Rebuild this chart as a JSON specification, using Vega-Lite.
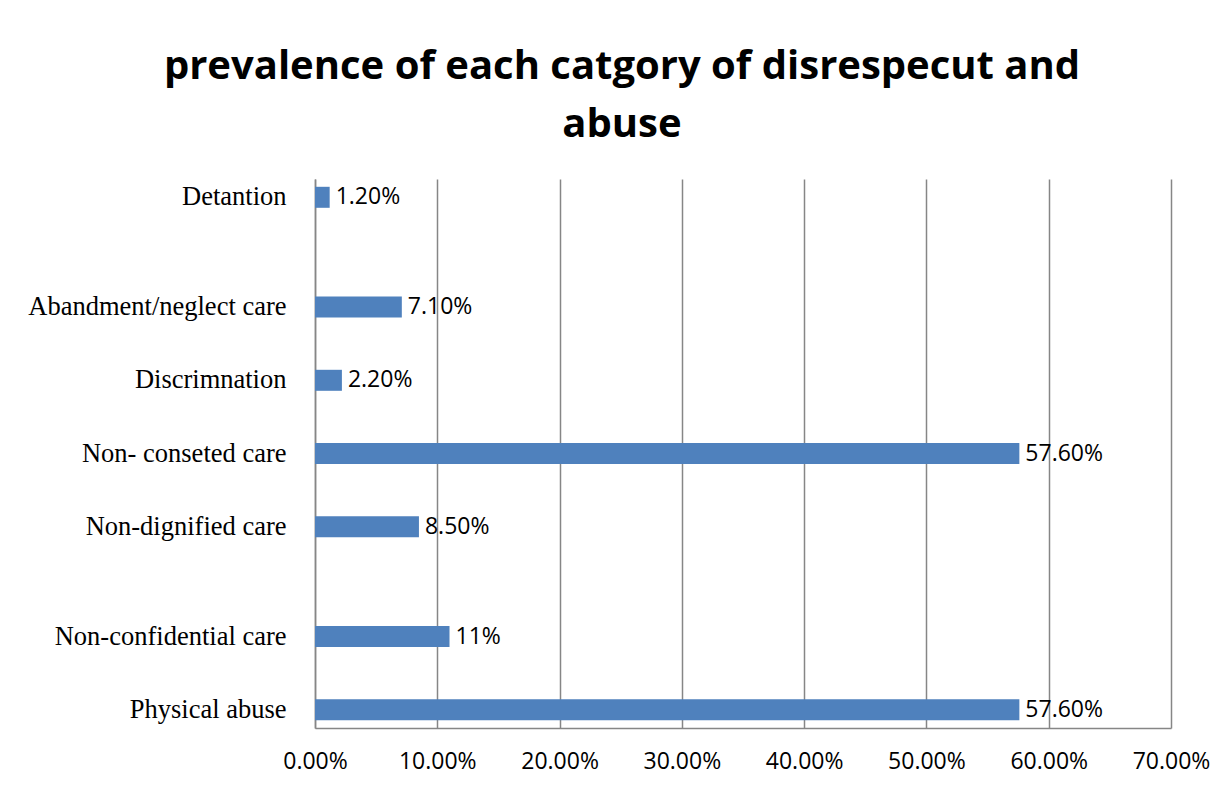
{
  "$schema": "https://vega.github.io/schema/vega-lite/v6.json",
  "width": 856,
  "height": 549,
  "autosize": "none",
  "padding": {"left": 315, "top": 179, "right": 57, "bottom": 61},
  "background": "white",
  "title": {
    "text": ["prevalence of each catgory of disrespecut and", "abuse"],
    "font": "Open Sans",
    "fontWeight": "bold",
    "fontSize": 40,
    "lineHeight": 58,
    "color": "black",
    "anchor": "middle",
    "frame": "group",
    "dx": -121,
    "offset": 34
  },
  "data": {
    "values": [
      {"category": "Detantion", "value": 0.012, "label": "1.20%"},
      {"category": "Abandment/neglect care", "value": 0.071, "label": "7.10%"},
      {"category": "Discrimnation", "value": 0.022, "label": "2.20%"},
      {"category": "Non- conseted care", "value": 0.576, "label": "57.60%"},
      {"category": "Non-dignified care", "value": 0.085, "label": "8.50%"},
      {"category": "Non-confidential care", "value": 0.11, "label": "11%"},
      {"category": "Physical abuse", "value": 0.576, "label": "57.60%"}
    ]
  },
  "encoding": {
    "y": {
      "field": "category",
      "type": "nominal",
      "scale": {
        "type": "band",
        "paddingInner": 0,
        "paddingOuter": 0,
        "domain": ["Detantion", "gap1", "gap2", "Abandment/neglect care", "gap3", "Discrimnation", "gap4", "Non- conseted care", "gap5", "Non-dignified care", "gap6", "gap7", "Non-confidential care", "gap8", "Physical abuse"]
      },
      "axis": {
        "title": null,
        "ticks": false,
        "labelExpr": "slice(datum.value, 0, 3) == 'gap' ? '' : datum.label",
        "labelFont": "Liberation Serif",
        "labelFontSize": 26.5,
        "labelColor": "black",
        "labelPadding": 29,
        "labelLimit": 400,
        "domainColor": "#868686",
        "domainWidth": 1.5,
        "grid": false
      }
    },
    "x": {
      "field": "value",
      "type": "quantitative",
      "scale": {"domain": [0, 0.7], "nice": false},
      "axis": {
        "title": null,
        "values": [0, 0.1, 0.2, 0.3, 0.4, 0.5, 0.6, 0.7],
        "format": ".2%",
        "ticks": false,
        "labelFlush": false,
        "labelOverlap": false,
        "labelFont": "Open Sans",
        "labelFontSize": 23,
        "labelColor": "black",
        "labelPadding": 22,
        "domainColor": "#868686",
        "domainWidth": 1.5,
        "grid": true,
        "gridColor": "#868686",
        "gridWidth": 1.5
      }
    }
  },
  "layer": [
    {
      "mark": {"type": "bar", "color": "#4f81bd", "height": 21}
    },
    {
      "mark": {"type": "text", "align": "left", "baseline": "middle", "dx": 6, "font": "Open Sans", "fontSize": 23, "color": "black"},
      "encoding": {"text": {"field": "label"}}
    }
  ],
  "config": {
    "view": {"stroke": null}
  }
}
